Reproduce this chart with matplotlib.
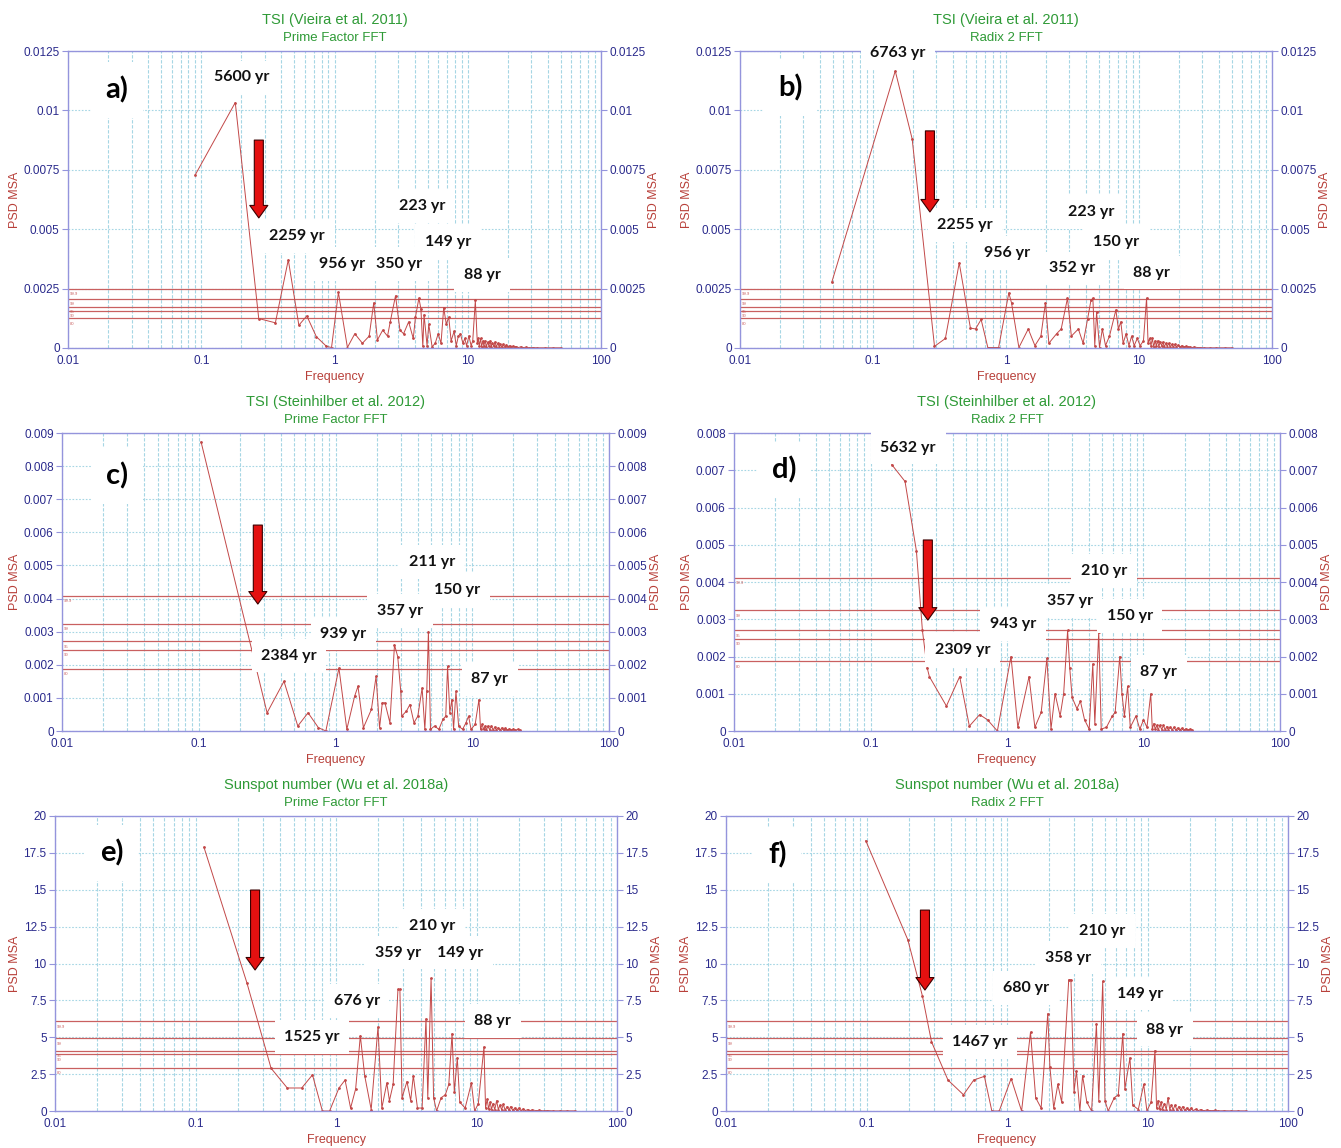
import numpy as np
import matplotlib.pyplot as plt
import matplotlib.transforms as mtransforms
from matplotlib.ticker import FixedLocator, FormatStrFormatter, LogLocator, NullFormatter

plt.rcParams['font.family'] = ['Liberation Sans', 'DejaVu Sans']

# (frequency [cycles/kyr], PSD)
pts_a = [(0.09, 0.00728), (0.18, 0.01033), (0.27, 0.00124), (0.36, 0.00106), (0.45, 0.00371), (0.54, 0.00096),
         (0.62, 0.00135), (0.73, 0.00048), (0.87, 0.00007), (0.95, 0.00002), (1.07, 0.00234), (1.25, 0.00002),
         (1.42, 0.0006), (1.62, 0.0002), (1.82, 0.0005), (1.97, 0.0019), (2.1, 0.00034), (2.3, 0.00075),
         (2.5, 0.0005), (2.62, 0.0011), (2.87, 0.0022), (3.1, 0.00075), (3.3, 0.0006), (3.6, 0.0011),
         (3.9, 0.0004), (4.05, 0.0013), (4.3, 0.0021), (4.45, 0.00165), (4.6, 0.00007), (4.7, 0.0014),
         (4.95, 0.0001), (5.1, 0.001), (5.4, 0.00005), (5.7, 0.0002), (6.0, 0.0006), (6.3, 0.0002),
         (6.6, 0.0017), (6.9, 0.001), (7.2, 0.0013), (7.5, 0.0003), (7.9, 0.0007), (8.2, 0.0001),
         (8.5, 0.0005), (8.8, 0.0006), (9.2, 0.0002), (9.5, 0.0004), (9.8, 0.0001), (10.2, 0.0005),
         (10.6, 0.0001), (10.9, 0.0003), (11.4, 0.002), (11.8, 0.0002), (12.0, 0.0004), (12.2, 0.0001),
         (12.5, 0.0004), (12.7, 0.00005), (13.0, 0.0003), (13.2, 0.0001), (13.5, 0.0003), (13.8, 0.00005),
         (14.1, 0.00025), (14.4, 0.0001), (14.7, 0.0003), (15.0, 0.00005), (15.3, 0.0002), (15.7, 0.00008),
         (16.0, 0.00025), (16.4, 0.00005), (16.8, 0.0002), (17.2, 0.00006), (17.6, 0.00015), (18.0, 0.00004),
         (18.5, 0.00015), (19.0, 0.00005), (19.5, 0.00012), (20.0, 0.00004), (20.6, 0.0001), (21.2, 0.00003),
         (21.8, 0.00008), (22.5, 0.00003), (23.2, 0.00006), (24, 0.00002), (25, 0.00005), (26, 0.00002),
         (27.5, 0.00003), (29, 0.00001), (31, 0.00002), (33, 0.00001), (38, 0.00001), (44, 0.00001), (50, 0.00001)]

pts_b = [(0.049, 0.00277), (0.147, 0.01166), (0.197, 0.0088), (0.29, 0.00007), (0.35, 0.0004), (0.445, 0.00358),
         (0.54, 0.00084), (0.59, 0.0008), (0.65, 0.0012), (0.73, 0.00002), (0.88, 0.00002), (1.05, 0.00232),
         (1.1, 0.0019), (1.25, 0.00002), (1.47, 0.0008), (1.65, 0.0001), (1.83, 0.0005), (1.98, 0.0019),
         (2.1, 0.0002), (2.4, 0.0006), (2.6, 0.0008), (2.9, 0.0021), (3.1, 0.0005), (3.5, 0.0008),
         (3.8, 0.0002), (4.1, 0.0012), (4.35, 0.002), (4.5, 0.0021), (4.65, 0.0001), (4.8, 0.0015),
         (5.05, 0.00002), (5.3, 0.0008), (5.6, 0.0001), (6.0, 0.0005), (6.7, 0.0016), (7.0, 0.0008),
         (7.3, 0.0011), (7.6, 0.0002), (8.0, 0.0006), (8.4, 0.0001), (8.8, 0.0005), (9.2, 0.0001),
         (9.7, 0.0004), (10.2, 0.0001), (10.8, 0.0003), (11.4, 0.0021), (11.7, 0.0002), (12.0, 0.0004),
         (12.3, 0.0001), (12.6, 0.0004), (12.9, 0.00005), (13.2, 0.0003), (13.5, 0.0001), (13.8, 0.0003),
         (14.1, 0.00005), (14.4, 0.00025), (14.8, 0.0001), (15.1, 0.00025), (15.5, 0.00005), (15.9, 0.0002),
         (16.3, 0.00006), (16.7, 0.0002), (17.1, 0.00005), (17.6, 0.00015), (18.1, 0.00004), (18.6, 0.00015),
         (19.1, 0.00005), (19.7, 0.00012), (20.3, 0.00004), (21, 0.0001), (21.7, 0.00003), (22.4, 0.00007),
         (23.2, 0.00003), (24, 0.00005), (25, 0.00002), (26, 0.00004), (27.5, 0.00002), (29, 0.00002),
         (31, 0.00001), (34, 0.00001), (38, 0.00001), (44, 0.00001), (50, 0.00001)]

pts_c = [(0.104, 0.00873), (0.316, 0.00055), (0.42, 0.0015), (0.53, 0.00015), (0.63, 0.00055), (0.75, 0.0001),
         (0.85, 0.0), (1.06, 0.0019), (1.21, 0.00005), (1.38, 0.00105), (1.46, 0.00135), (1.6, 0.0001),
         (1.83, 0.00065), (1.98, 0.00165), (2.1, 0.0001), (2.2, 0.00085), (2.3, 0.00085), (2.5, 0.00025),
         (2.7, 0.0026), (2.85, 0.00225), (3.0, 0.0012), (3.05, 0.00045), (3.3, 0.0006), (3.5, 0.0008),
         (3.75, 0.00025), (4.0, 0.00045), (4.3, 0.0013), (4.5, 0.00005), (4.65, 0.0012), (4.78, 0.003),
         (4.95, 0.00005), (5.3, 0.00015), (5.7, 0.00005), (6.1, 0.00035), (6.4, 0.00045), (6.6, 0.00195),
         (6.85, 0.00055), (7.1, 0.00095), (7.3, 0.00005), (7.6, 0.0012), (7.95, 0.00015), (8.5, 0.00005),
         (9.0, 0.00025), (9.4, 0.00045), (9.8, 0.00005), (10.5, 0.0002), (11.2, 0.00095), (11.5, 0.00005),
         (11.8, 0.0002), (12.1, 0.00005), (12.4, 0.00015), (12.7, 0.00003), (13.0, 0.00015), (13.4, 0.00004),
         (13.8, 0.00015), (14.2, 0.00003), (14.6, 0.00012), (15.0, 0.00004), (15.5, 0.0001), (16.0, 0.00003),
         (16.5, 0.0001), (17.0, 0.00003), (17.5, 0.00008), (18.1, 0.00002), (18.7, 0.00007), (19.3, 0.00002),
         (20, 0.00006), (20.7, 0.00002), (21.5, 0.00005), (22.5, 0.00002)]

pts_d = [(0.0916, 0.0085), (0.144, 0.00714), (0.179, 0.0067), (0.217, 0.00483), (0.24, 0.0027), (0.26, 0.0017),
         (0.27, 0.00146), (0.36, 0.00067), (0.45, 0.00146), (0.53, 0.00013), (0.63, 0.00044), (0.72, 0.0003),
         (0.85, 0.0), (1.07, 0.002), (1.2, 0.0001), (1.45, 0.00146), (1.6, 0.0001), (1.78, 0.0005),
         (1.96, 0.00195), (2.1, 0.00005), (2.25, 0.001), (2.45, 0.0004), (2.6, 0.001), (2.78, 0.0027),
         (2.88, 0.0017), (3.0, 0.0009), (3.25, 0.0006), (3.45, 0.0008), (3.7, 0.0003), (4.0, 0.00005),
         (4.25, 0.0018), (4.4, 0.0002), (4.7, 0.00266), (4.9, 0.00005), (5.35, 0.0001), (5.9, 0.0004),
         (6.2, 0.0005), (6.7, 0.002), (6.95, 0.001), (7.25, 0.0004), (7.65, 0.0012), (8.0, 0.0001),
         (8.8, 0.0004), (9.4, 0.00005), (10.0, 0.0003), (10.6, 0.0001), (11.3, 0.001), (11.6, 0.00005),
         (11.9, 0.0002), (12.2, 0.00005), (12.5, 0.00015), (12.8, 0.00003), (13.2, 0.00015), (13.6, 0.00004),
         (14.0, 0.00015), (14.4, 0.00003), (14.8, 0.00012), (15.2, 0.00004), (15.7, 0.0001), (16.2, 0.00003),
         (16.7, 0.0001), (17.2, 0.00003), (17.8, 0.00008), (18.4, 0.00002), (19.0, 0.00007), (19.7, 0.00002),
         (20.4, 0.00006), (21.1, 0.00002), (21.9, 0.00005), (22.8, 0.00002)]

pts_e = [(0.1148, 17.89), (0.232, 8.7), (0.345, 2.9), (0.45, 1.56), (0.57, 1.56), (0.68, 2.45), (0.80, 0.0),
         (0.9, 0.0), (1.05, 1.56), (1.16, 2.1), (1.27, 0.2), (1.38, 1.5), (1.49, 5.1), (1.6, 2.4), (1.78, 0.1),
         (1.99, 5.7), (2.12, 0.2), (2.3, 1.9), (2.4, 0.7), (2.55, 1.8), (2.76, 8.25), (2.85, 8.25), (2.95, 0.9),
         (3.2, 2.0), (3.4, 0.7), (3.55, 2.4), (3.8, 0.2), (4.1, 0.2), (4.37, 6.25), (4.5, 0.9), (4.75, 9.0),
         (4.95, 0.9), (5.2, 0.0), (5.6, 0.9), (6.0, 1.1), (6.35, 1.8), (6.7, 5.25), (6.95, 1.3), (7.3, 3.6),
         (7.6, 0.6), (8.3, 0.2), (9.2, 1.9), (9.7, 0.0), (10.3, 0.5), (11.3, 4.35), (11.6, 0.2), (11.9, 0.8),
         (12.2, 0.15), (12.5, 0.6), (12.8, 0.1), (13.1, 0.5), (13.5, 0.1), (13.9, 0.7), (14.3, 0.1), (14.7, 0.4),
         (15.1, 0.08), (15.5, 0.45), (16.0, 0.06), (16.5, 0.3), (17.0, 0.05), (17.5, 0.3), (18.1, 0.04),
         (18.7, 0.2), (19.3, 0.04), (20, 0.2), (20.7, 0.03), (21.5, 0.15), (22.3, 0.03), (23.2, 0.1), (24, 0.02),
         (25, 0.08), (26.5, 0.02), (28, 0.05), (30, 0.01), (32, 0.03), (35, 0.01), (39, 0.01), (44, 0.01),
         (50, 0.01)]

pts_f = [(0.0988, 18.33), (0.197, 11.6), (0.25, 7.8), (0.29, 4.7), (0.38, 2.1), (0.49, 1.1), (0.58, 2.1),
         (0.69, 2.35), (0.78, 0.0), (0.88, 0.0), (1.07, 2.2), (1.27, 0.0), (1.47, 5.35), (1.6, 0.9), (1.75, 0.2),
         (1.95, 6.6), (2.02, 3.0), (2.15, 0.2), (2.3, 1.8), (2.45, 0.6), (2.75, 8.9), (2.85, 8.9), (3.0, 1.3),
         (3.12, 2.7), (3.3, 0.0), (3.45, 2.4), (3.7, 0.6), (4.0, 0.0), (4.33, 5.9), (4.5, 0.7), (4.8, 8.8),
         (4.98, 0.7), (5.25, 0.0), (5.8, 0.9), (6.2, 1.1), (6.67, 5.25), (6.9, 1.5), (7.5, 3.6), (7.85, 0.4),
         (8.6, 0.1), (9.4, 1.8), (9.9, 0.0), (10.6, 0.6), (11.3, 4.1), (11.6, 0.2), (11.9, 0.7), (12.2, 0.15),
         (12.5, 0.6), (12.8, 0.1), (13.2, 0.5), (13.6, 0.1), (14.0, 0.9), (14.4, 0.1), (14.8, 0.4), (15.2, 0.08),
         (15.7, 0.4), (16.2, 0.06), (16.7, 0.3), (17.2, 0.05), (17.8, 0.3), (18.4, 0.04), (19.0, 0.2),
         (19.7, 0.04), (20.4, 0.2), (21.1, 0.03), (22, 0.12), (23, 0.03), (24, 0.1), (25, 0.02), (26.5, 0.06),
         (28, 0.02), (30, 0.04), (32, 0.01), (35, 0.02), (39, 0.01), (44, 0.01), (50, 0.01)]

# significance levels (99.9 / 99 / 95 / 90 / 80 %)
sig_levels = ["99.9", "99", "95", "90", "80"]
sig_a = [0.00249, 0.00207, 0.00174, 0.00157, 0.00126]
sig_b = [0.00249, 0.00207, 0.00174, 0.00157, 0.00126]
sig_c = [0.00408, 0.00324, 0.00272, 0.00246, 0.00188]
sig_d = [0.00412, 0.00324, 0.00270, 0.00248, 0.00188]
sig_e = [6.09, 4.95, 4.08, 3.84, 2.94]
sig_f = [6.09, 4.95, 4.08, 3.84, 2.94]

yticks_a = [0, 0.0025, 0.005, 0.0075, 0.01, 0.0125]
yticks_c = [0, 0.001, 0.002, 0.003, 0.004, 0.005, 0.006, 0.007, 0.008, 0.009]
yticks_d = [0, 0.001, 0.002, 0.003, 0.004, 0.005, 0.006, 0.007, 0.008]
yticks_e = [0, 2.5, 5, 7.5, 10, 12.5, 15, 17.5, 20]
xticks = [0.01, 0.1, 1, 10, 100]

titles = ["TSI (Vieira et al. 2011)", "TSI (Vieira et al. 2011)",
          "TSI (Steinhilber et al. 2012)", "TSI (Steinhilber et al. 2012)",
          "Sunspot number (Wu et al. 2018a)", "Sunspot number (Wu et al. 2018a)"]
subtitles = ["Prime Factor FFT", "Radix 2 FFT"] * 3

# period labels (text, x, y in axes fraction)
labels_a = [("5600 yr", 0.325, 0.912), ("2259 yr", 0.430, 0.377), ("956 yr", 0.515, 0.283),
            ("350 yr", 0.622, 0.283), ("223 yr", 0.664, 0.478), ("149 yr", 0.713, 0.357), ("88 yr", 0.777, 0.246)]
labels_b = [("6763 yr", 0.297, 0.993), ("2255 yr", 0.423, 0.414), ("956 yr", 0.502, 0.320),
            ("352 yr", 0.624, 0.269), ("223 yr", 0.660, 0.458), ("150 yr", 0.707, 0.357), ("88 yr", 0.774, 0.253)]
labels_c = [("211 yr", 0.676, 0.567), ("150 yr", 0.722, 0.473), ("357 yr", 0.618, 0.403),
            ("939 yr", 0.514, 0.326), ("2384 yr", 0.415, 0.252), ("87 yr", 0.782, 0.174)]
labels_d = [("5632 yr", 0.319, 0.950), ("210 yr", 0.678, 0.537), ("357 yr", 0.615, 0.436),
            ("150 yr", 0.725, 0.386), ("943 yr", 0.511, 0.359), ("2309 yr", 0.419, 0.272), ("87 yr", 0.778, 0.198)]
labels_e = [("210 yr", 0.671, 0.627), ("359 yr", 0.610, 0.536), ("149 yr", 0.721, 0.536),
            ("676 yr", 0.537, 0.373), ("88 yr", 0.779, 0.305), ("1525 yr", 0.457, 0.251)]
labels_f = [("210 yr", 0.669, 0.610), ("358 yr", 0.609, 0.519), ("680 yr", 0.534, 0.417),
            ("149 yr", 0.737, 0.397), ("88 yr", 0.781, 0.275), ("1467 yr", 0.452, 0.234)]

panels = [
    ("a)", pts_a, sig_a, yticks_a, labels_a, (68, 51, 601, 348), 53, (0.092, 0.869), (0.358, 0.700, 0.438)),
    ("b)", pts_b, sig_b, yticks_a, labels_b, (740, 51, 1272, 348), 53, (0.094, 0.875), (0.357, 0.731, 0.458)),
    ("c)", pts_c, sig_c, yticks_c, labels_c, (62, 433, 609, 731), 47, (0.101, 0.856), (0.358, 0.691, 0.426)),
    ("d)", pts_d, sig_d, yticks_d, labels_d, (734, 433, 1280, 731), 47, (0.092, 0.876), (0.355, 0.641, 0.372)),
    ("e)", pts_e, sig_e, yticks_e, labels_e, (55, 816, 617, 1111), 40, (0.101, 0.875), (0.356, 0.749, 0.478)),
    ("f)", pts_f, sig_f, yticks_e, labels_f, (726, 816, 1288, 1111), 40, (0.091, 0.868), (0.354, 0.681, 0.410)),
]

W, H = 1341, 1148
fig = plt.figure(figsize=(W / 100, H / 100), dpi=100)

green = '#2e9a36'
navy = '#2a2a8c'
spine_c = '#9494dc'
red_lab = '#b8403a'
curve_c = '#c24848'
sig_c_col = '#c96060'
grid_c = '#a6d6e4'

for i, (letter, pts, sig, yticks, labels, box, gap, letpos, arr) in enumerate(panels):
    l, t, r, b = box
    ax = fig.add_axes([l / W, 1 - b / H, (r - l) / W, (b - t) / H])
    f, p = np.array(pts).T
    ax.plot(f, p, color=curve_c, lw=0.7, marker='o', ms=1.0, zorder=2)

    trans = mtransforms.blended_transform_factory(ax.transAxes, ax.transData)
    for s, lv in zip(sig, sig_levels):
        ax.axhline(s, color=sig_c_col, lw=0.9, zorder=1.5)
        ax.text(0.004, s - yticks[-1] * 0.012, lv, transform=trans, fontsize=3, color=sig_c_col,
                va='top', zorder=1.6)

    ax.set_xscale('log')
    ax.set_xlim(0.01, 100)
    ax.set_ylim(0, yticks[-1])
    ax.xaxis.set_major_locator(FixedLocator(xticks))
    ax.xaxis.set_major_formatter(FormatStrFormatter('%g'))
    ax.xaxis.set_minor_locator(LogLocator(base=10, subs=np.arange(2, 10)))
    ax.xaxis.set_minor_formatter(NullFormatter())
    ax.yaxis.set_major_locator(FixedLocator(yticks))
    ax.yaxis.set_major_formatter(FormatStrFormatter('%g'))

    ax.grid(which='both', axis='x', color=grid_c, lw=0.8, ls=(0, (3, 1.5)), zorder=0)
    ax.grid(which='major', axis='y', color=grid_c, lw=0.8, ls=(0, (1.5, 1.5)), zorder=0)
    ax.set_axisbelow(True)

    for sp in ax.spines.values():
        sp.set_color(spine_c)
        sp.set_linewidth(1.0)
    ax.tick_params(axis='x', which='both', length=0, pad=5, labelsize=8.5, labelcolor=navy)
    ax.tick_params(axis='y', which='both', length=4, color=spine_c, labelsize=8.5, labelcolor=navy,
                   left=True, right=True, labelleft=True, labelright=True, pad=2)

    ax.text(0.5, 1.104, titles[i], transform=ax.transAxes, ha='center', va='center',
            fontsize=10.5, color=green)
    ax.text(0.5, 1.044, subtitles[i], transform=ax.transAxes, ha='center', va='center',
            fontsize=9.5, color=green)
    ax.text(0.5, -0.097, "Frequency", transform=ax.transAxes, ha='center', va='center',
            fontsize=9, color=red_lab)
    off = gap / (r - l)
    ax.text(-off, 0.5, "PSD MSA", transform=ax.transAxes, rotation=90, ha='center', va='center',
            fontsize=9, color=red_lab)
    ax.text(1 + off, 0.5, "PSD MSA", transform=ax.transAxes, rotation=90, ha='center', va='center',
            fontsize=9, color=red_lab)

    ax.text(letpos[0], letpos[1], letter, transform=ax.transAxes, ha='center', va='center',
            fontsize=21, fontweight='bold', family=['Lato', 'DejaVu Sans'], color='black', zorder=6,
            bbox=dict(boxstyle='square,pad=0.5', facecolor='white', edgecolor='none'))

    for txt, x, y in labels:
        ax.text(x, y, txt, transform=ax.transAxes, ha='center', va='center', fontsize=11.5,
                fontweight='bold', family=['Lato', 'DejaVu Sans'], color='#111111', zorder=6,
                clip_on=False,
                bbox=dict(boxstyle='square,pad=0.6', facecolor='white', edgecolor='none'))

    ax.annotate('', xy=(arr[0], arr[2]), xytext=(arr[0], arr[1]), xycoords='axes fraction',
                arrowprops=dict(facecolor='#e41010', edgecolor='#3a0000', lw=0.8,
                                width=6.5, headwidth=13, headlength=9, shrink=0),
                zorder=7)

fig.savefig('out.png', dpi=100, facecolor='white')
